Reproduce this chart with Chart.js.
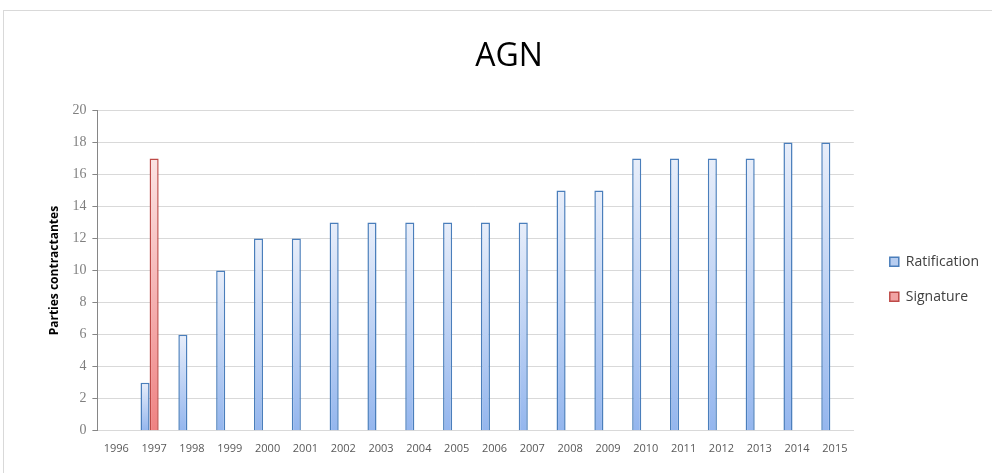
<!DOCTYPE html>
<html>
<head>
<meta charset="utf-8">
<script src="https://cdn.jsdelivr.net/npm/chart.js@4.4.1/dist/chart.umd.min.js"></script>
<style>
  body { margin: 0; background: #fff; }
  #frame { position: absolute; left: 3px; top: 10px; width: 1000px; height: 500px; border: 1px solid #d9d9d9; }
  #wrap { position: absolute; left: 0; top: 0; width: 992px; height: 473px; }
</style>
</head>
<body>
<div id="frame"></div>
<div id="wrap"><canvas id="agnChart" width="992" height="473"></canvas></div>
<script>
var years = ['1996', '1997', '1998', '1999', '2000', '2001', '2002', '2003', '2004', '2005',
             '2006', '2007', '2008', '2009', '2010', '2011', '2012', '2013', '2014', '2015'];
var ratification = [0, 3, 6, 10, 12, 12, 13, 13, 13, 13, 13, 13, 15, 15, 17, 17, 17, 17, 18, 18];
var signature = [0, 17, 0, 0, 0, 0, 0, 0, 0, 0, 0, 0, 0, 0, 0, 0, 0, 0, 0, 0];
// empty third slot: the original groups its two bars left of the year centre
var emptySlot = years.map(function () { return null; });

function barGradient(topColor, bottomColor) {
    return function (context) {
        var chart = context.chart;
        if (!chart.chartArea || context.raw == null) {
            return bottomColor;
        }
        var yScale = chart.scales.y;
        var top = yScale.getPixelForValue(context.raw);
        var bottom = yScale.getPixelForValue(0);
        if (bottom - top < 1) {
            return bottomColor;
        }
        var g = chart.ctx.createLinearGradient(0, top, 0, bottom);
        g.addColorStop(0, topColor);
        g.addColorStop(1, bottomColor);
        return g;
    };
}

function drawChart() {
    var ctx = document.getElementById('agnChart').getContext('2d');

    var agnChart = new Chart(ctx, {
        type: 'bar',
        data: {
            labels: years,
            datasets: [{
                label: 'Ratification',
                data: ratification,
                backgroundColor: barGradient('#e8eefa', '#94b6ee'),
                borderColor: '#4a7ebb',
                borderWidth: 1.5,
                borderSkipped: 'bottom'
            }, {
                label: 'Signature',
                data: signature,
                backgroundColor: barGradient('#fbe3e3', '#ef8282'),
                borderColor: '#be4b48',
                borderWidth: 1.5,
                borderSkipped: 'bottom'
            }, {
                label: '',
                data: emptySlot,
                backgroundColor: 'rgba(0,0,0,0)',
                borderWidth: 0
            }]
        },
        options: {
            responsive: false,
            animation: false,
            categoryPercentage: 0.72,
            barPercentage: 1.0,
            layout: {
                padding: { left: 29, right: 3, top: 38, bottom: 7 }
            },
            plugins: {
                title: {
                    display: true,
                    text: 'AGN',
                    color: '#000',
                    font: { family: 'Open Sans', size: 32, weight: 'normal' },
                    padding: { top: 0, bottom: 34 }
                },
                legend: {
                    position: 'right',
                    title: {
                        display: true,
                        text: ' ',
                        padding: { top: 40, bottom: 0 }
                    },
                    labels: {
                        boxWidth: 9,
                        boxHeight: 9,
                        padding: 21,
                        color: '#404040',
                        font: { family: 'Open Sans', size: 14 },
                        generateLabels: function (chart) {
                            var fills = ['#b7cdf0', '#f1a3a3'];
                            return chart.data.datasets.slice(0, 2).map(function (ds, i) {
                                return {
                                    text: ds.label,
                                    fillStyle: fills[i],
                                    strokeStyle: ds.borderColor,
                                    lineWidth: 1.5,
                                    datasetIndex: i,
                                    fontColor: '#404040'
                                };
                            });
                        }
                    }
                },
                tooltip: { enabled: false }
            },
            scales: {
                x: {
                    grid: { display: false, drawTicks: false },
                    border: { color: '#d9d9d9' },
                    ticks: {
                        color: '#595959',
                        padding: 11,
                        maxRotation: 0,
                        autoSkip: false,
                        font: { family: 'Open Sans', size: 11 }
                    }
                },
                y: {
                    min: 0,
                    max: 20,
                    grid: {
                        color: '#d9d9d9',
                        tickColor: '#868686',
                        tickLength: 5
                    },
                    border: { color: '#868686' },
                    ticks: {
                        stepSize: 2,
                        color: '#7f7f7f',
                        padding: 6,
                        font: { family: 'Liberation Serif', size: 14 }
                    },
                    title: {
                        display: true,
                        text: 'Parties contractantes',
                        color: '#000',
                        font: { family: 'Open Sans', size: 12, weight: 'bold' },
                        padding: { top: 18, bottom: 5 }
                    }
                },
                // empty right-hand axis used only as a gap before the legend
                gap: {
                    type: 'linear',
                    position: 'right',
                    display: true,
                    grid: { display: false, drawTicks: false },
                    border: { display: false },
                    ticks: { display: false },
                    afterFit: function (scale) {
                        scale.width = 15;
                    }
                }
            }
        }
    });
}

drawChart();
</script>
</body>
</html>
